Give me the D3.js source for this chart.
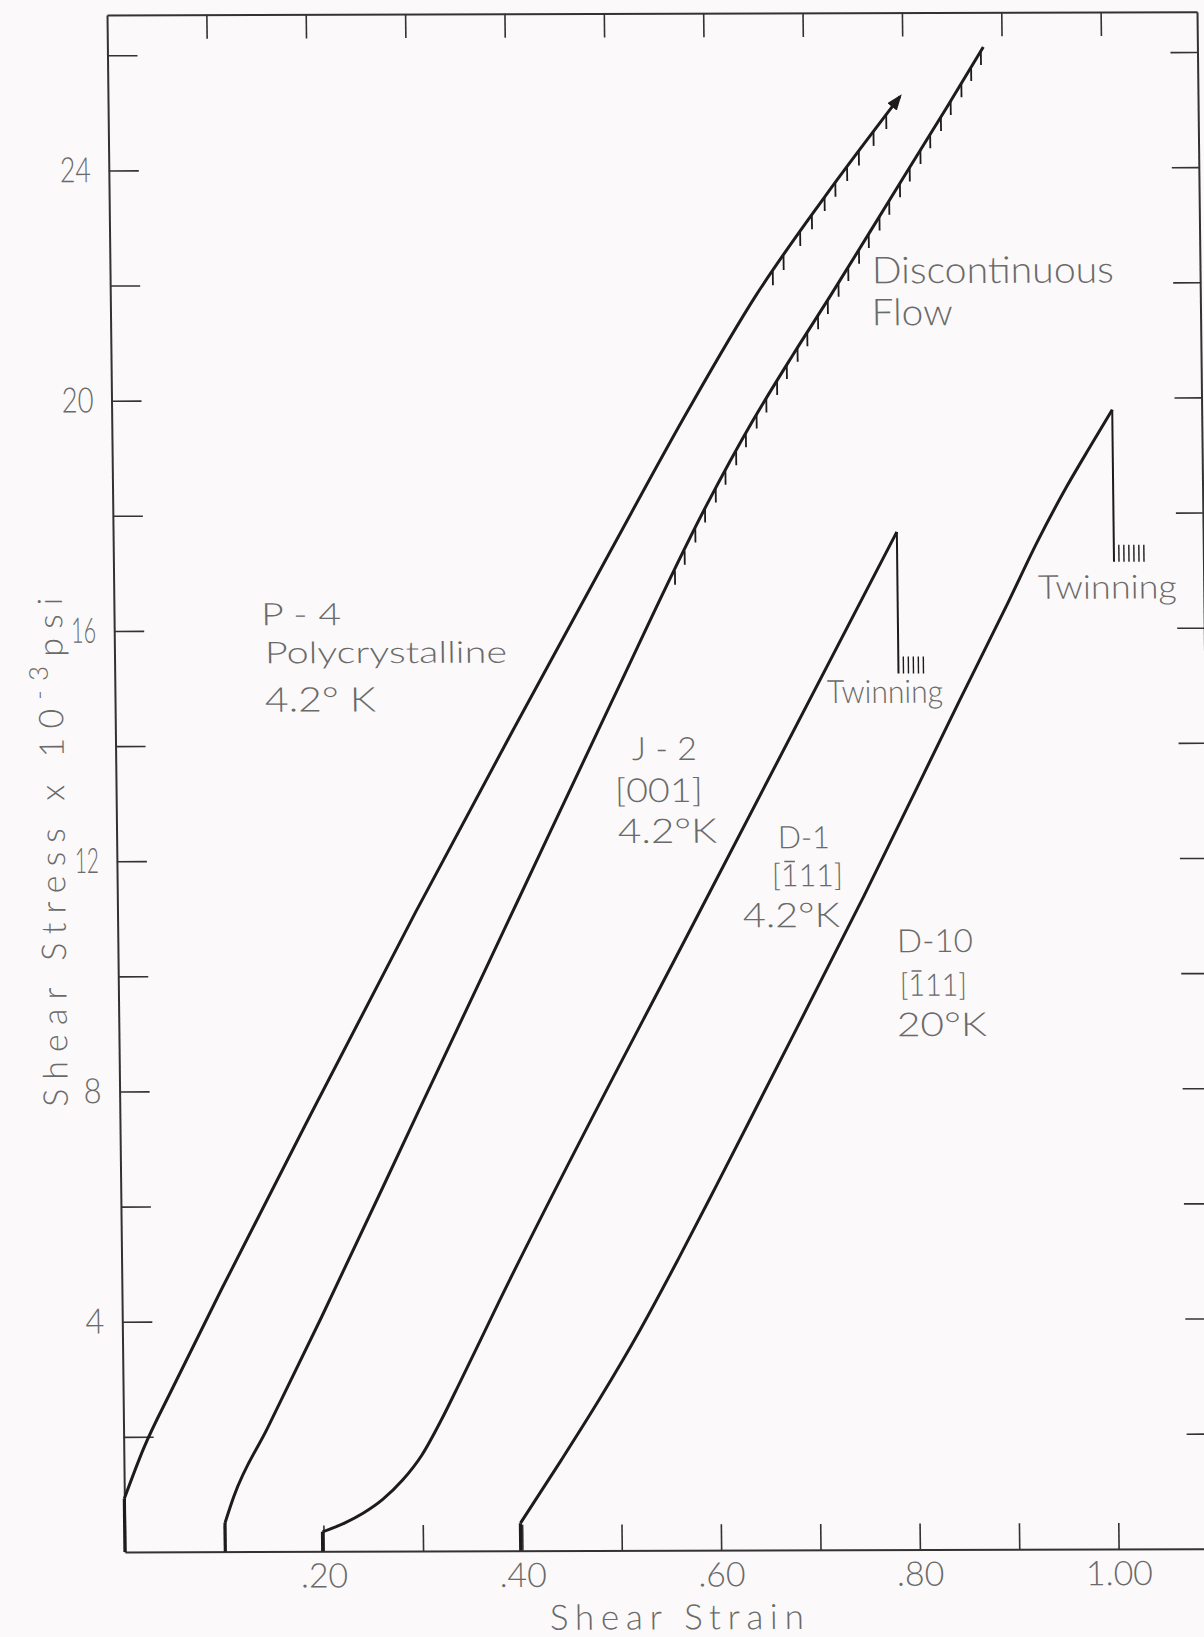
<!DOCTYPE html>
<html>
<head>
<meta charset="utf-8">
<script src="https://cdn.jsdelivr.net/npm/d3@7"></script>
<style>
  html, body { margin: 0; padding: 0; background: #fbf9f9; }
  svg { display: block; }
  text { font-family: Lato, "Open Sans", sans-serif; font-weight: 300; fill: #6a6a6a; }
</style>
</head>
<body>
<svg id="chart"></svg>
<script>
// page + plot size
const pageW = 1204, pageH = 1637;
const plotW = 1090, plotH = 1537;

// axis values
const strainMax = 1.097;
const stressMax = 26.7;
const xTicks = [0.1, 0.2, 0.3, 0.4, 0.5, 0.6, 0.7, 0.8, 0.9, 1.0];
const xTickLabels = { 0.2: ".20", 0.4: ".40", 0.6: ".60", 0.8: ".80", 1.0: "1.00" };
const yTicks = [2, 4, 6, 8, 10, 12, 14, 16, 18, 20, 22, 24, 26];
const yTickLabels = { 4: "4", 8: "8", 12: "12", 16: "16", 20: "20", 24: "24" };

// P-4 polycrystalline 4.2 K
const p4Start = 0.0;
const p4Strain = [0.0, 0.02, 0.05, 0.10, 0.20, 0.30, 0.40, 0.50, 0.58, 0.65, 0.72, 0.797];
const p4Stress = [0.93, 1.8, 2.85, 4.55, 7.85, 11.1, 14.25, 17.35, 19.8, 21.8, 23.5, 25.24];
const p4Serrations = [0.667, 0.678, 0.695, 0.707, 0.720, 0.731, 0.743, 0.755, 0.770, 0.783];

// J-2 [001] 4.2 K
const j2Start = 0.101;
const j2Strain = [0.101, 0.11, 0.145, 0.20, 0.30, 0.4035, 0.50, 0.5975, 0.6445, 0.6859, 0.7253, 0.7648, 0.8045, 0.844, 0.8815];
const j2Stress = [0.5, 0.95, 2.15, 4.05, 7.62, 11.31, 14.75, 18.15, 19.6, 20.75, 21.8, 22.88, 23.97, 25.05, 26.1];
const j2Serrations = [0.565, 0.575, 0.586, 0.596, 0.607, 0.617, 0.628, 0.638, 0.649, 0.659, 0.670, 0.680,
  0.691, 0.701, 0.712, 0.722, 0.733, 0.743, 0.754, 0.764, 0.775, 0.785, 0.796, 0.806, 0.817, 0.827,
  0.838, 0.848, 0.859, 0.869, 0.879];

// D-1 [-111] 4.2 K
const d1Start = 0.199;
const d1Strain = [0.199, 0.2212, 0.24, 0.26, 0.28, 0.30, 0.32, 0.34, 0.3794, 0.5913, 0.7888];
const d1Stress = [0.34, 0.49, 0.66, 0.9, 1.23, 1.67, 2.28, 2.96, 4.33, 11.27, 17.68];
const d1DropTo = 15.22;
const d1Comb = 5;

// D-10 [-111] 20 K
const d10Start = 0.3983;
const d10Strain = [0.3983, 0.44, 0.48, 0.52, 0.56, 0.60, 0.65, 0.7512, 0.85, 0.90, 0.93, 0.96, 0.985, 1.007];
const d10Stress = [0.48, 1.57, 2.65, 3.8, 5.05, 6.35, 8.0, 11.35, 14.75, 16.45, 17.5, 18.45, 19.17, 19.79];
const d10DropTo = 17.15;
const d10Comb = 6;

const svg = d3.select('#chart')
  .attr('width', pageW)
  .attr('height', pageH)
  .attr('viewBox', `0 0 ${pageW} ${pageH}`);

svg.append('defs').append('marker')
  .attr('id', 'arrow')
  .attr('viewBox', '0 0 16 12')
  .attr('refX', 13)
  .attr('refY', 6)
  .attr('markerWidth', 16)
  .attr('markerHeight', 12)
  .attr('markerUnits', 'userSpaceOnUse')
  .attr('orient', 'auto')
  .append('path')
  .attr('d', 'M0,0 L16,6 L0,12 Z')
  .attr('fill', '#1c1c1c');

// the scan is a little skewed, so the plot is too
const g = svg.append('g')
  .attr('transform', 'matrix(1,-0.003,0.0117,1,107,15)');

const x = d3.scaleLinear().domain([0, strainMax]).range([0, plotW]);
const y = d3.scaleLinear().domain([0, stressMax]).range([plotH, 0]);

// axes
const styleAxis = sel => {
  sel.select('.domain').attr('stroke', '#333').attr('stroke-width', 2);
  sel.selectAll('.tick line').attr('stroke', '#333').attr('stroke-width', 1.6);
  sel.selectAll('.tick text').attr('fill', '#6a6a6a').attr('font-size', 34)
    .attr('font-family', 'Lato, sans-serif').attr('font-weight', 300);
};

g.append('g')
  .attr('transform', `translate(0,${plotH})`)
  .call(d3.axisBottom(x).tickValues(xTicks).tickSizeInner(-26).tickSizeOuter(0).tickPadding(12)
    .tickFormat(d => xTickLabels[d] || ''))
  .call(styleAxis);

g.append('g')
  .call(d3.axisTop(x).tickValues(xTicks).tickSizeInner(-24).tickSizeOuter(0).tickFormat(''))
  .call(styleAxis);

// narrow lettering of the stress labels
const yLabelWidth = { '4': 19, '8': 18, '12': 24, '16': 25, '20': 32, '24': 31 };
g.append('g')
  .call(d3.axisLeft(y).tickValues(yTicks).tickSizeInner(-30).tickSizeOuter(0).tickPadding(18)
    .tickFormat(d => yTickLabels[d] || ''))
  .call(styleAxis)
  .selectAll('.tick text')
  .filter(function () { return this.textContent !== ''; })
  .attr('font-size', 35)
  .attr('textLength', function () { return yLabelWidth[this.textContent]; })
  .attr('lengthAdjust', 'spacingAndGlyphs');

g.append('g')
  .attr('transform', `translate(${plotW},0)`)
  .call(d3.axisRight(y).tickValues(yTicks).tickSizeInner(-27).tickSizeOuter(0).tickFormat(''))
  .call(styleAxis);

// curves
const series = [
  { start: p4Start, xs: p4Strain, ys: p4Stress, serr: p4Serrations, arrow: true },
  { start: j2Start, xs: j2Strain, ys: j2Stress, serr: j2Serrations },
  { start: d1Start, xs: d1Strain, ys: d1Stress, drop: d1DropTo, comb: d1Comb },
  { start: d10Start, xs: d10Strain, ys: d10Stress, drop: d10DropTo, comb: d10Comb }
];

const line = d3.line()
  .x(d => x(d[0]))
  .y(d => y(d[1]))
  .curve(d3.curveMonotoneX);

const stressAt = (s, sx) => {
  const i = Math.max(1, Math.min(s.xs.length - 1, d3.bisectLeft(s.xs, sx)));
  const x0 = s.xs[i - 1], x1 = s.xs[i];
  const t = (sx - x0) / (x1 - x0);
  return s.ys[i - 1] + t * (s.ys[i] - s.ys[i - 1]);
};

series.forEach(s => {
  const pts = s.xs.map((v, i) => [v, s.ys[i]]);

  // vertical loading start
  g.append('line')
    .attr('x1', x(s.start)).attr('x2', x(s.start))
    .attr('y1', y(0)).attr('y2', y(s.ys[0]))
    .attr('stroke', '#1c1c1c').attr('stroke-width', 3.2);

  const p = g.append('path')
    .attr('d', line(pts))
    .attr('fill', 'none')
    .attr('stroke', '#1c1c1c')
    .attr('stroke-width', 3)
    .attr('stroke-linejoin', 'round');
  if (s.arrow) p.attr('marker-end', 'url(#arrow)');

  // serrations (discontinuous flow)
  if (s.serr) {
    g.append('g').selectAll('line')
      .data(s.serr)
      .join('line')
      .attr('x1', d => x(d)).attr('x2', d => x(d))
      .attr('y1', d => y(stressAt(s, d)))
      .attr('y2', d => y(stressAt(s, d)) + 14)
      .attr('stroke', '#1c1c1c')
      .attr('stroke-width', 1.8);
  }

  // twinning load drop
  if (s.drop !== undefined) {
    const last = pts[pts.length - 1];
    g.append('line')
      .attr('x1', x(last[0])).attr('x2', x(last[0]))
      .attr('y1', y(last[1])).attr('y2', y(s.drop))
      .attr('stroke', '#1c1c1c').attr('stroke-width', 2);
    g.append('g').selectAll('line')
      .data(d3.range(1, s.comb + 1))
      .join('line')
      .attr('x1', k => x(last[0]) + k * 5).attr('x2', k => x(last[0]) + k * 5)
      .attr('y1', y(s.drop) - 17).attr('y2', y(s.drop))
      .attr('stroke', '#1c1c1c').attr('stroke-width', 1.4);
  }
});

// annotations: [text, strain, stress, font size, width, index of barred digit]
const notes = [
  ['P - 4', 0.148, 16.09, 31, 80],
  ['Polycrystalline', 0.1514, 15.43, 30, 242],
  ['4.2\u00b0 K', 0.1508, 14.59, 34, 111],
  ['J - 2', 0.5196, 13.73, 32, 65],
  ['[001]', 0.502, 13.0, 33, 88],
  ['4.2\u00b0K', 0.5045, 12.29, 34, 99],
  ['D-1', 0.6655, 12.19, 31, 52],
  ['[111]', 0.659, 11.53, 31, 71, 1],
  ['4.2\u00b0K', 0.6293, 10.82, 34, 97],
  ['D-10', 0.784, 10.38, 32, 76],
  ['[111]', 0.7865, 9.62, 31, 67, 1],
  ['20\u00b0K', 0.783, 8.92, 33, 90],
  ['Discontinuous', 0.7667, 22.0, 37, 242],
  ['Flow', 0.766, 21.27, 37, 81],
  ['Twinning', 0.7166, 14.71, 32, 116],
  ['Twinning', 0.93, 16.51, 33, 139]
];

const noteG = g.append('g');
noteG.selectAll('text')
  .data(notes)
  .join('text')
  .attr('x', d => x(d[1]))
  .attr('y', d => y(d[2]))
  .attr('font-size', d => d[3])
  .attr('textLength', d => d[4])
  .attr('lengthAdjust', 'spacingAndGlyphs')
  .text(d => d[0])
  .each(function (d) {
    if (d[5] === undefined) return;
    // bar over the negative index digit
    const ext = this.getExtentOfChar(d[5]);
    const top = y(d[2]) - d[3] * 0.8;
    noteG.append('line')
      .attr('x1', ext.x + ext.width * 0.2)
      .attr('x2', ext.x + ext.width * 0.8)
      .attr('y1', top).attr('y2', top)
      .attr('stroke', '#6a6a6a')
      .attr('stroke-width', 1.6);
  });

// axis titles
g.append('text')
  .attr('x', plotW * 0.5055)
  .attr('y', plotH + 79)
  .attr('text-anchor', 'middle')
  .attr('font-size', 35)
  .attr('textLength', 254)
  .attr('lengthAdjust', 'spacing')
  .text('Shear Strain');

const yTitle = g.append('text')
  .attr('transform', `translate(${-52},${plotH * 0.5446}) rotate(-90)`)
  .attr('text-anchor', 'middle')
  .attr('font-size', 34)
  .attr('textLength', 509)
  .attr('lengthAdjust', 'spacing');
yTitle.append('tspan').text('Shear Stress x 10');
yTitle.append('tspan').attr('font-size', 26).attr('dy', -15).text('-3');
yTitle.append('tspan').attr('dy', 15).text('psi');
</script>
</body>
</html>
